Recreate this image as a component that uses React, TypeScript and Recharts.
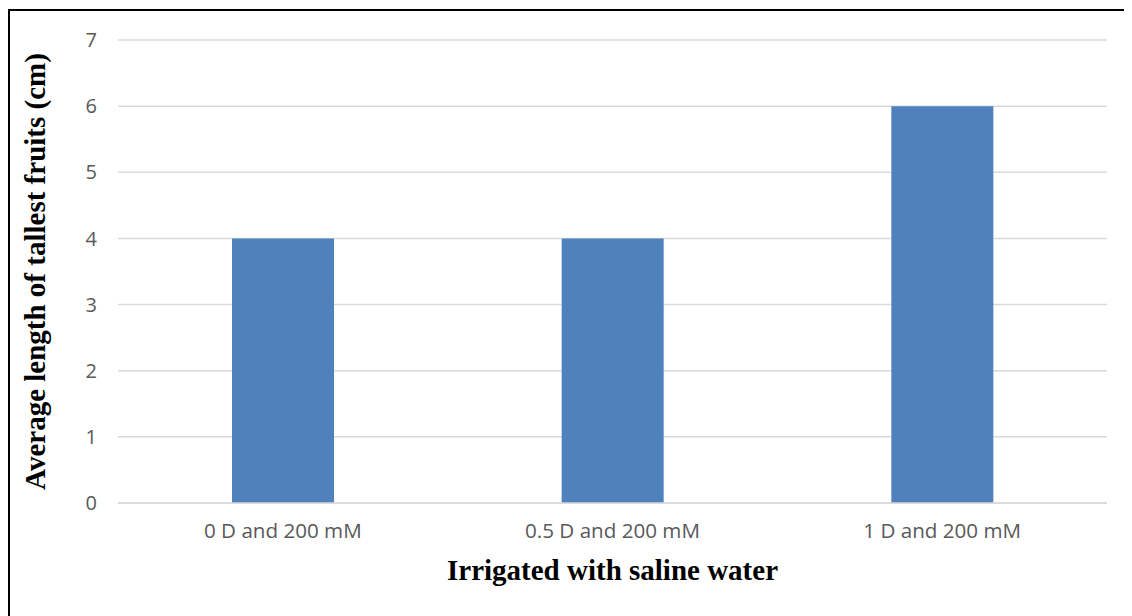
import React from 'react';
import { BarChart, Bar, XAxis, YAxis, CartesianGrid } from 'recharts';

const categories = ['0 D and 200 mM', '0.5 D and 200 mM', '1 D and 200 mM'];
const fruitLength = [4, 4, 6];
const yTicks = [0, 1, 2, 3, 4, 5, 6, 7];

const data = categories.map((name, i) => ({ name, length: fruitLength[i] }));

const xTickStyle = { fill: '#595959', fontSize: 20.6, fontFamily: '"Open Sans", sans-serif' };
const yTickStyle = { fill: '#595959', fontSize: 20, fontFamily: '"Open Sans", sans-serif' };
const titleFont = '"Liberation Serif", "Times New Roman", serif';

export default function App() {
  return (
    <div
      style={{
        width: 1130,
        height: 620,
        marginTop: 1,
        borderTop: '2px solid #000',
        borderLeft: '2px solid #000',
        background: '#fff',
        overflow: 'hidden',
      }}
    >
      <BarChart
        width={1120}
        height={606}
        data={data}
        margin={{ top: 29, right: 23, left: 48, bottom: 84 }}
      >
        <CartesianGrid vertical={false} stroke="#d9d9d9" strokeWidth={1.5} />
        <XAxis
          dataKey="name"
          height={30}
          tickLine={false}
          axisLine={{ stroke: '#d9d9d9', strokeWidth: 1.5 }}
          tick={xTickStyle}
          tickSize={0}
          tickMargin={20}
          label={{
            value: 'Irrigated with saline water',
            position: 'insideBottom',
            offset: -47,
            style: { fontFamily: titleFont, fontWeight: 'bold', fontSize: 29, fill: '#000' },
          }}
        />
        <YAxis
          domain={[0, 7]}
          ticks={yTicks}
          width={60}
          tickLine={false}
          axisLine={false}
          tick={yTickStyle}
          tickSize={0}
          tickMargin={21}
          label={{
            value: 'Average length of tallest fruits (cm)',
            angle: -90,
            position: 'insideLeft',
            offset: -23,
            style: { fontFamily: titleFont, fontWeight: 'bold', fontSize: 29, fill: '#000', textAnchor: 'middle' },
          }}
        />
        <Bar dataKey="length" fill="#4f81bd" barSize={102} isAnimationActive={false} />
      </BarChart>
    </div>
  );
}
